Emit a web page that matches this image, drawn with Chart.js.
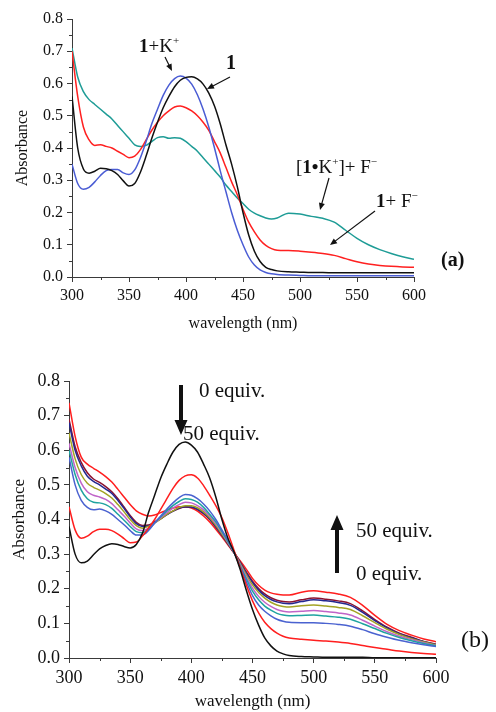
<!DOCTYPE html>
<html>
<head>
<meta charset="utf-8">
<script src="https://cdn.jsdelivr.net/npm/chart.js@4"></script>
<style>
  html, body { margin: 0; padding: 0; background: #fff; }
  body { width: 496px; height: 712px; position: relative; overflow: hidden; }
  .panel { position: absolute; left: 0; width: 496px; }
  #panelA { top: 0; height: 345px; }
  #panelB { top: 360px; height: 352px; }
</style>
</head>
<body>
<div class="panel" id="panelA"><canvas id="chartA" width="496" height="345"></canvas></div>
<div class="panel" id="panelB"><canvas id="chartB" width="496" height="352"></canvas></div>
<script>
// Wavelength grid (nm) shared by every spectrum
const wavelengths = [300,305,310,315,320,325,330,335,340,345,350,355,360,365,370,375,380,385,390,395,
  400,405,410,415,420,425,430,435,440,445,450,455,460,465,470,475,480,
  490,500,510,520,530,540,550,560,570,580,590,600];

// Axis ticks
const xTicks = [300, 350, 400, 450, 500, 550, 600];
const xTickLabels = ['300', '350', '400', '450', '500', '550', '600'];
const xMinorTicks = [325, 375, 425, 475, 525, 575];
const yTicks = [0, 0.1, 0.2, 0.3, 0.4, 0.5, 0.6, 0.7, 0.8];
const yTickLabels = ['0.0', '0.1', '0.2', '0.3', '0.4', '0.5', '0.6', '0.7', '0.8'];
const yMinorTicks = [0.05, 0.15, 0.25, 0.35, 0.45, 0.55, 0.65, 0.75];

// (a) spectra of 1 under different conditions
const absFree = [0.56,0.40,0.335,0.322,0.328,0.337,0.336,0.330,0.318,0.298,0.282,0.290,0.325,0.375,0.430,0.480,0.525,0.560,0.590,0.610,
  0.619,0.621,0.614,0.598,0.570,0.530,0.475,0.410,0.350,0.280,0.200,0.130,0.080,0.048,0.030,0.023,0.019,
  0.016,0.015,0.014,0.014,0.013,0.013,0.013,0.013,0.013,0.013,0.013,0.013];
const absK = [0.35,0.29,0.272,0.278,0.295,0.315,0.330,0.333,0.333,0.323,0.318,0.332,0.370,0.420,0.475,0.520,0.563,0.595,0.615,0.623,
  0.617,0.598,0.565,0.520,0.465,0.400,0.330,0.265,0.200,0.145,0.100,0.062,0.037,0.022,0.014,0.010,0.008,
  0.006,0.005,0.004,0.004,0.004,0.004,0.004,0.004,0.004,0.004,0.004,0.004];
const absF = [0.70,0.56,0.465,0.425,0.408,0.410,0.405,0.400,0.390,0.380,0.370,0.375,0.395,0.425,0.455,0.480,0.500,0.515,0.527,0.530,
  0.525,0.515,0.500,0.480,0.455,0.420,0.385,0.340,0.295,0.255,0.210,0.170,0.140,0.115,0.098,0.088,0.083,
  0.082,0.080,0.077,0.073,0.067,0.057,0.047,0.040,0.036,0.033,0.031,0.030];
const absKF = [0.71,0.62,0.575,0.550,0.535,0.520,0.505,0.490,0.470,0.450,0.430,0.410,0.405,0.408,0.420,0.432,0.435,0.430,0.432,0.430,
  0.420,0.405,0.390,0.370,0.350,0.330,0.310,0.285,0.265,0.245,0.228,0.210,0.198,0.190,0.183,0.180,0.183,
  0.198,0.195,0.188,0.182,0.170,0.145,0.120,0.100,0.085,0.073,0.063,0.055];

// (b) titration of [1·K+] with F- (0 to 50 equiv.)
const titr0 = [0.38,0.30,0.275,0.280,0.298,0.315,0.325,0.330,0.328,0.322,0.318,0.328,0.360,0.420,0.470,0.520,0.560,0.595,0.617,0.624,
  0.615,0.595,0.560,0.520,0.465,0.400,0.345,0.305,0.255,0.195,0.140,0.095,0.058,0.035,0.020,0.012,0.007,
  0.004,0.003,0.002,0.002,0.002,0.002,0.001,0.001,0.001,0.001,0.001,0.001];
const titr1 = [0.437,0.37,0.346,0.352,0.365,0.372,0.372,0.368,0.358,0.345,0.333,0.335,0.352,0.375,0.400,0.430,0.460,0.490,0.513,0.526,
  0.529,0.520,0.498,0.470,0.440,0.405,0.360,0.310,0.260,0.210,0.165,0.130,0.103,0.085,0.072,0.063,0.058,
  0.054,0.051,0.049,0.046,0.042,0.036,0.030,0.025,0.020,0.016,0.013,0.011];
const titr2 = [0.58,0.50,0.455,0.435,0.428,0.430,0.425,0.415,0.400,0.385,0.368,0.355,0.355,0.368,0.390,0.410,0.430,0.448,0.463,0.472,
  0.470,0.460,0.445,0.425,0.400,0.370,0.340,0.305,0.262,0.220,0.180,0.153,0.135,0.122,0.112,0.106,0.103,
  0.102,0.102,0.100,0.097,0.092,0.082,0.070,0.060,0.051,0.044,0.038,0.033];
const titr3 = [0.60,0.53,0.485,0.460,0.450,0.448,0.443,0.432,0.415,0.398,0.380,0.365,0.362,0.372,0.390,0.408,0.425,0.440,0.452,0.460,
  0.458,0.450,0.435,0.415,0.393,0.365,0.336,0.305,0.266,0.228,0.193,0.168,0.150,0.138,0.129,0.124,0.122,
  0.123,0.124,0.121,0.118,0.112,0.099,0.085,0.071,0.059,0.050,0.042,0.035];
const titr4 = [0.62,0.55,0.505,0.480,0.470,0.465,0.458,0.446,0.428,0.410,0.390,0.373,0.368,0.375,0.390,0.405,0.420,0.433,0.443,0.450,
  0.448,0.440,0.428,0.410,0.388,0.362,0.334,0.305,0.269,0.234,0.202,0.178,0.161,0.149,0.140,0.135,0.133,
  0.135,0.137,0.134,0.130,0.124,0.109,0.092,0.076,0.063,0.053,0.044,0.036];
const titr5 = [0.65,0.575,0.530,0.505,0.493,0.485,0.475,0.462,0.443,0.422,0.400,0.382,0.375,0.380,0.390,0.402,0.415,0.425,0.435,0.440,
  0.440,0.434,0.422,0.405,0.383,0.358,0.332,0.305,0.272,0.240,0.211,0.189,0.173,0.161,0.153,0.149,0.147,
  0.151,0.153,0.150,0.146,0.140,0.122,0.102,0.083,0.068,0.056,0.046,0.038];
const titr6 = [0.68,0.60,0.555,0.525,0.510,0.500,0.488,0.475,0.455,0.432,0.408,0.388,0.380,0.382,0.392,0.402,0.414,0.424,0.433,0.437,
  0.436,0.430,0.418,0.402,0.380,0.356,0.330,0.304,0.275,0.245,0.218,0.196,0.180,0.169,0.162,0.158,0.157,
  0.163,0.168,0.165,0.160,0.152,0.132,0.108,0.087,0.070,0.058,0.047,0.039];
const titr7 = [0.69,0.61,0.565,0.535,0.517,0.507,0.495,0.480,0.460,0.436,0.412,0.392,0.383,0.384,0.393,0.403,0.414,0.424,0.432,0.436,
  0.435,0.429,0.417,0.400,0.378,0.354,0.329,0.304,0.277,0.248,0.222,0.201,0.185,0.174,0.167,0.163,0.162,
  0.168,0.173,0.170,0.165,0.157,0.136,0.111,0.089,0.072,0.060,0.048,0.040];
const titr50 = [0.737,0.64,0.580,0.560,0.548,0.537,0.524,0.508,0.487,0.465,0.443,0.425,0.415,0.410,0.413,0.420,0.427,0.433,0.437,0.437,
  0.433,0.424,0.410,0.393,0.372,0.350,0.326,0.303,0.280,0.256,0.230,0.210,0.196,0.188,0.184,0.182,0.182,
  0.190,0.194,0.190,0.185,0.175,0.152,0.123,0.097,0.079,0.066,0.055,0.047];

const serif = "'Liberation Serif', 'Times New Roman', serif";
const axisColor = '#3a3a3a';

function pts(vals) { return wavelengths.map((w, i) => ({ x: w, y: vals[i] })); }
function line(label, vals, color) {
  return { label, data: pts(vals), borderColor: color, backgroundColor: color,
    borderWidth: 1.5, pointRadius: 0, fill: false, cubicInterpolationMode: 'monotone' };
}

// short minor ticks on both axes
const minorTicks = {
  id: 'minorTicks',
  afterDraw(chart) {
    const { ctx, scales: { x, y } } = chart;
    ctx.save();
    ctx.strokeStyle = axisColor;
    ctx.lineWidth = 1;
    ctx.beginPath();
    yMinorTicks.forEach(v => {
      const py = Math.round(y.getPixelForValue(v)) + 0.5;
      ctx.moveTo(x.left, py); ctx.lineTo(x.left - 3, py);
    });
    xMinorTicks.forEach(v => {
      const px = Math.round(x.getPixelForValue(v)) + 0.5;
      ctx.moveTo(px, y.bottom); ctx.lineTo(px, y.bottom + 3);
    });
    ctx.stroke();
    ctx.restore();
  }
};

// rich text: runs of {t, bold, sup}
function richText(ctx, runs, x, y, size) {
  let cx = x;
  runs.forEach(r => {
    const s = r.sup ? Math.round(size * 0.6) : size;
    ctx.font = (r.bold ? 'bold ' : '') + s + 'px ' + serif;
    ctx.fillText(r.t, cx, r.sup ? y - size * 0.42 : y);
    cx += ctx.measureText(r.t).width;
  });
}
function thinArrow(ctx, x1, y1, x2, y2) {
  const a = Math.atan2(y2 - y1, x2 - x1), h = 7, w = 3;
  ctx.beginPath(); ctx.moveTo(x1, y1);
  ctx.lineTo(x2 - Math.cos(a) * h * 0.8, y2 - Math.sin(a) * h * 0.8);
  ctx.lineWidth = 1.2; ctx.stroke();
  ctx.beginPath();
  ctx.moveTo(x2, y2);
  ctx.lineTo(x2 - Math.cos(a) * h - Math.sin(a) * w, y2 - Math.sin(a) * h + Math.cos(a) * w);
  ctx.lineTo(x2 - Math.cos(a) * h + Math.sin(a) * w, y2 - Math.sin(a) * h - Math.cos(a) * w);
  ctx.closePath(); ctx.fill();
}
function boldArrow(ctx, x, yTail, yTip) {
  const dir = yTip > yTail ? 1 : -1, head = 15, hw = 6.5, sw = 2;
  ctx.beginPath();
  ctx.moveTo(x - sw, yTail); ctx.lineTo(x + sw, yTail);
  ctx.lineTo(x + sw, yTip - dir * head); ctx.lineTo(x + hw, yTip - dir * head);
  ctx.lineTo(x, yTip); ctx.lineTo(x - hw, yTip - dir * head);
  ctx.lineTo(x - sw, yTip - dir * head); ctx.closePath(); ctx.fill();
}

const notesA = {
  id: 'notesA',
  afterDraw(chart) {
    const ctx = chart.ctx;
    ctx.save();
    ctx.fillStyle = '#111'; ctx.strokeStyle = '#111';
    ctx.textBaseline = 'alphabetic'; ctx.textAlign = 'left';
    richText(ctx, [{ t: '1', bold: true }, { t: '+K' }, { t: '+', sup: true }], 139, 52, 19);
    thinArrow(ctx, 165, 57, 172, 71);
    richText(ctx, [{ t: '1', bold: true }], 226, 69, 20);
    thinArrow(ctx, 230, 77, 207, 89);
    richText(ctx, [{ t: '[' }, { t: '1', bold: true }, { t: '\u2022', bold: true }, { t: 'K' }, { t: '+', sup: true },
      { t: ']+ F' }, { t: '\u2212', sup: true }], 296, 173, 19);
    thinArrow(ctx, 329, 178, 320, 210);
    richText(ctx, [{ t: '1', bold: true }, { t: '+ F' }, { t: '\u2212', sup: true }], 376, 207, 19);
    thinArrow(ctx, 375, 211, 330, 245);
    richText(ctx, [{ t: '(a)', bold: true }], 441, 266, 20);
    ctx.restore();
  }
};

const notesB = {
  id: 'notesB',
  afterDraw(chart) {
    const ctx = chart.ctx;
    ctx.save();
    ctx.fillStyle = '#111';
    ctx.textBaseline = 'alphabetic'; ctx.textAlign = 'left';
    boldArrow(ctx, 181, 25, 75);
    richText(ctx, [{ t: '0 equiv.' }], 199, 37, 21);
    richText(ctx, [{ t: '50 equiv.' }], 183, 80, 21);
    boldArrow(ctx, 337, 213, 155);
    richText(ctx, [{ t: '50 equiv.' }], 356, 177, 21);
    richText(ctx, [{ t: '0 equiv.' }], 356, 220, 21);
    richText(ctx, [{ t: '(b)' }], 461, 287, 24);
    ctx.restore();
  }
};

function makeOptions(cfg) {
  return {
    responsive: false,
    animation: false,
    devicePixelRatio: 1,
    layout: { padding: { left: 0, right: cfg.padRight, top: cfg.padTop, bottom: 0 } },
    plugins: { legend: { display: false }, tooltip: { enabled: false } },
    scales: {
      x: {
        type: 'linear', min: 300, max: 600,
        afterBuildTicks: s => { s.ticks = xTicks.map(v => ({ value: v })); },
        afterFit: s => { s.height = cfg.xHeight; s.paddingLeft = 0; s.paddingRight = 0; },
        ticks: { font: { family: serif, size: cfg.tickSize }, color: '#111', padding: cfg.xTickPad, maxRotation: 0,
          callback: (v, i) => xTickLabels[i] },
        grid: { drawOnChartArea: false, drawTicks: true, tickLength: 5, tickColor: axisColor, tickWidth: 1 },
        border: { display: true, color: axisColor, width: 1 },
        title: { display: true, text: 'wavelength (nm)', color: '#111',
          font: { family: serif, size: cfg.titleSize }, padding: { top: 0, bottom: cfg.xTitlePad } }
      },
      y: {
        type: 'linear', min: 0, max: 0.8,
        afterBuildTicks: s => { s.ticks = yTicks.map(v => ({ value: v })); },
        afterFit: s => { s.width = cfg.yWidth; s.paddingTop = 0; s.paddingBottom = 0; },
        ticks: { font: { family: serif, size: cfg.tickSize }, color: '#111', padding: 4,
          callback: (v, i) => yTickLabels[i] },
        grid: { drawOnChartArea: false, drawTicks: true, tickLength: 5, tickColor: axisColor, tickWidth: 1 },
        border: { display: true, color: axisColor, width: 1 },
        title: { display: true, text: 'Absorbance', color: '#111',
          font: { family: serif, size: cfg.titleSize }, padding: { top: cfg.yTitlePad, bottom: 0 } }
      }
    }
  };
}

new Chart(document.getElementById('chartA'), {
  type: 'line',
  data: {
    datasets: [
      line('1', absFree, '#111111'),
      line('1+K+', absK, '#4a5cd4'),
      line('1+F-', absF, '#ff2020'),
      line('[1·K+]+F-', absKF, '#1e9c96')
    ]
  },
  options: makeOptions({ padRight: 82, padTop: 19, xHeight: 68, yWidth: 72, tickSize: 16, titleSize: 16,
    xTickPad: 4, xTitlePad: 12, yTitlePad: 13 }),
  plugins: [minorTicks, notesA]
});

new Chart(document.getElementById('chartB'), {
  type: 'line',
  data: {
    datasets: [
      line('0 equiv.', titr0, '#111111'),
      line('step 1', titr1, '#ff1e1e'),
      line('step 2', titr2, '#4a62d0'),
      line('step 3', titr3, '#1ea3a0'),
      line('step 4', titr4, '#c064c8'),
      line('step 5', titr5, '#a3a324'),
      line('step 6', titr6, '#23288f'),
      line('step 7', titr7, '#8c1230'),
      line('50 equiv.', titr50, '#ff1e1e')
    ]
  },
  options: makeOptions({ padRight: 60, padTop: 21, xHeight: 54, yWidth: 69, tickSize: 18, titleSize: 17,
    xTickPad: 4, xTitlePad: 0, yTitlePad: 9 }),
  plugins: [minorTicks, notesB]
});
</script>
</body>
</html>
